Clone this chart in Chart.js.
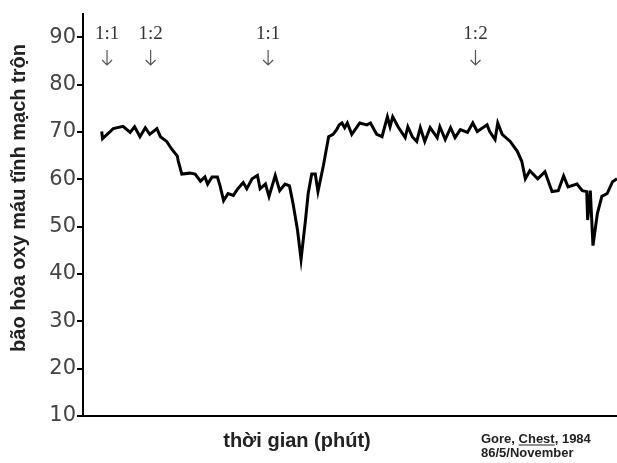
<!DOCTYPE html>
<html>
<head>
<meta charset="utf-8">
<script src="https://cdn.jsdelivr.net/npm/chart.js@4.4.0/dist/chart.umd.min.js"></script>
<style>
  html, body { margin: 0; padding: 0; background: #fff; }
  #wrap { width: 617px; height: 463px; position: relative; }
</style>
</head>
<body>
<div id="wrap"><canvas id="c"></canvas></div>
<script>
// thời gian (phút)
const time = [
  2.1, 2.2, 3.4, 4.5, 5.3, 5.8, 6.4, 7.0, 7.5, 8.3, 8.7, 9.4, 10.0, 10.6, 10.7, 11.1,
  12.0, 12.6, 13.2, 13.7, 14.0, 14.5, 15.1, 15.4, 15.8, 16.3, 16.9, 17.4, 18.0, 18.4,
  19.0, 19.6, 19.9, 20.5, 20.9, 21.6, 22.1, 22.7, 23.2, 23.6, 24.1, 24.5, 25.0, 25.3,
  25.7, 26.1, 26.4, 27.0, 27.6, 28.1, 28.5, 28.8, 29.1, 29.4, 29.7, 30.2, 31.1, 31.9,
  32.3, 33.0, 33.6, 34.2, 34.5, 34.8, 35.4, 36.2, 36.5, 37.0, 37.5, 37.9, 38.4, 39.0,
  39.8, 40.1, 40.7, 41.3, 41.8, 42.4, 43.2, 43.8, 44.3, 45.4, 45.7, 46.3, 46.6, 47.1,
  48.0, 48.8, 49.3, 49.7, 50.2, 51.1, 51.9, 52.7, 53.4, 54.0, 54.5, 55.5, 56.1, 56.6,
  56.7, 57.0, 57.3, 57.8, 58.3, 58.9, 59.5, 60.0
];
// bão hòa oxy máu tĩnh mạch trộn (%)
const saturation = [
  70.1, 68.6, 70.7, 71.2, 69.9, 71.1, 69.0, 70.9, 69.5, 70.7, 69.0, 68.0, 66.3, 64.9, 63.9, 61.1,
  61.3, 61.1, 59.6, 60.5, 59.0, 60.5, 60.5, 58.6, 55.5, 57.0, 56.6, 58.0, 59.3, 58.0,
  60.1, 60.8, 58.0, 59.0, 56.4, 60.8, 57.6, 59.0, 58.6, 54.9, 49.3, 43.1, 51.4, 57.0,
  61.1, 61.1, 57.4, 62.8, 69.0, 69.5, 70.5, 71.5, 71.9, 70.9, 71.9, 69.5, 71.9, 71.5,
  71.9, 69.5, 69.0, 73.2, 71.1, 73.2, 71.1, 68.8, 71.1, 69.0, 68.0, 70.9, 68.0, 70.9,
  68.8, 71.1, 68.4, 70.9, 68.8, 70.5, 69.9, 71.9, 70.1, 71.5, 70.1, 68.4, 71.9, 69.5,
  68.0, 65.9, 63.8, 60.1, 61.8, 60.1, 61.6, 57.4, 57.6, 60.7, 58.4, 59.0, 57.6, 57.4,
  51.4, 57.6, 46.0, 52.8, 56.4, 57.0, 59.5, 60.1
];
// tỉ lệ thông khí và thời điểm thay đổi
const ratioLabels = ['1:1', '1:2', '1:1', '1:2'];
const ratioTimes = [2.7, 7.6, 20.8, 44.1];
const yTicks = [10, 20, 30, 40, 50, 60, 70, 80, 90];

const points = time.map((t, i) => ({ x: t, y: saturation[i] }));

// vẽ chữ chú thích, mũi tên
const notes = {
  id: 'notes',
  afterDraw(chart) {
    const ctx = chart.ctx;
    const xs = chart.scales.x;
    ctx.save();

    // nhãn 1:1 / 1:2 và mũi tên
    ratioLabels.forEach((lab, i) => {
      const px = xs.getPixelForValue(ratioTimes[i]);
      ctx.fillStyle = '#333';
      ctx.font = '19px "Liberation Serif", "DejaVu Serif", serif';
      ctx.textAlign = 'center';
      ctx.textBaseline = 'middle';
      ctx.fillText(lab, px, 34);
      ctx.strokeStyle = '#555';
      ctx.lineWidth = 1.2;
      ctx.beginPath();
      ctx.moveTo(px, 50);
      ctx.lineTo(px, 65);
      ctx.moveTo(px - 5, 60);
      ctx.lineTo(px, 65);
      ctx.lineTo(px + 5, 60);
      ctx.stroke();
    });

    // tiêu đề trục y
    ctx.fillStyle = '#222';
    ctx.font = 'bold 20px "Liberation Sans", Arial, sans-serif';
    ctx.translate(19, 198);
    ctx.rotate(-Math.PI / 2);
    ctx.textAlign = 'center';
    ctx.textBaseline = 'middle';
    ctx.fillText('bão hòa oxy máu tĩnh mạch trộn', 0, 0);
    ctx.setTransform(1, 0, 0, 1, 0, 0);

    // tiêu đề trục x
    ctx.font = 'bold 20px "Liberation Sans", Arial, sans-serif';
    ctx.textAlign = 'center';
    ctx.textBaseline = 'alphabetic';
    ctx.fillText('thời gian (phút)', 297, 447);

    // nguồn
    ctx.font = 'bold 13px "Liberation Sans", Arial, sans-serif';
    ctx.textAlign = 'left';
    ctx.fillText('Gore, ', 481, 443);
    const w1 = ctx.measureText('Gore, ').width;
    ctx.fillText('Chest', 481 + w1, 443);
    const w2 = ctx.measureText('Chest').width;
    ctx.fillRect(481 + w1, 444.5, w2, 1);
    ctx.fillText(', 1984', 481 + w1 + w2, 443);
    ctx.fillText('86/5/November', 481, 457);
    ctx.restore();
  }
};

new Chart(document.getElementById('c'), {
  type: 'line',
  data: {
    datasets: [{
      data: points,
      borderColor: '#000',
      borderWidth: 3,
      pointRadius: 0,
      tension: 0,
      fill: false
    }]
  },
  options: {
    responsive: true,
    maintainAspectRatio: false,
    animation: false,
    events: [],
    layout: { padding: { top: 7, right: 0, bottom: 0, left: 0 } },
    plugins: { legend: { display: false }, tooltip: { enabled: false } },
    scales: {
      x: {
        type: 'linear',
        min: 0,
        max: 60,
        ticks: { display: false },
        grid: { display: false, drawTicks: false },
        border: { display: true, color: '#000', width: 2 },
        afterFit(s) { s.height = 47; }
      },
      y: {
        min: 10,
        max: 95,
        afterBuildTicks(s) { s.ticks = yTicks.map(v => ({ value: v })); },
        ticks: {
          color: '#444',
          padding: 1,
          font: { size: 21, family: '"DejaVu Sans", Verdana, sans-serif' }
        },
        grid: { drawOnChartArea: false, tickLength: 6, color: '#000', lineWidth: 2 },
        border: { display: true, color: '#000', width: 2 },
        afterFit(s) { s.width = 83; }
      }
    }
  },
  plugins: [notes]
});
</script>
</body>
</html>
